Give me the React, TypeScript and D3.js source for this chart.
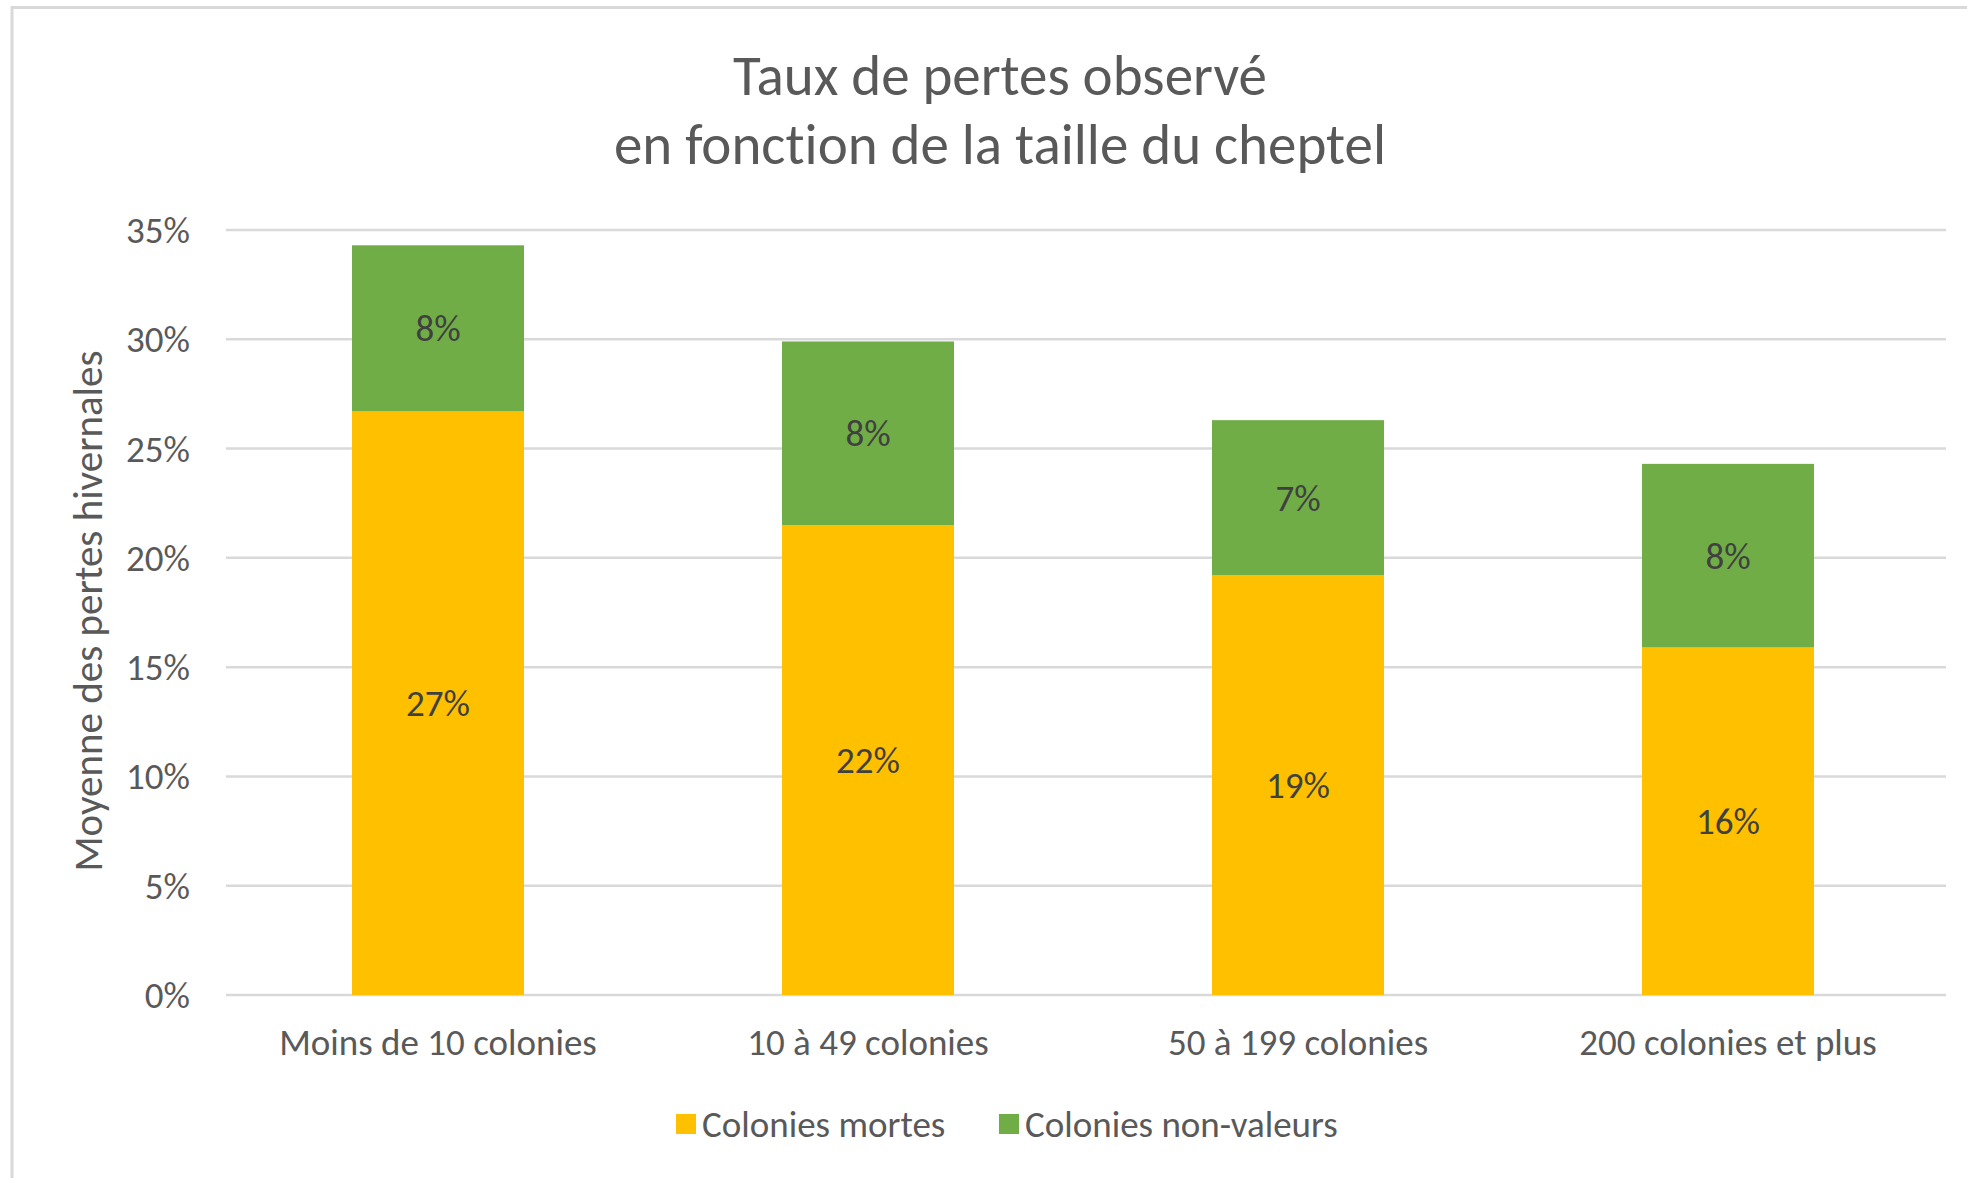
import React from "react";
import * as d3 from "d3";

// chart values (percent)
const categories = [
  "Moins de 10 colonies",
  "10 à 49 colonies",
  "50 à 199 colonies",
  "200 colonies et plus",
];
const coloniesMortes = [26.7, 21.5, 19.2, 15.9];
const coloniesNonValeurs = [7.6, 8.4, 7.1, 8.4];
const yTicks = [0, 5, 10, 15, 20, 25, 30, 35];
const seriesNames = ["Colonies mortes", "Colonies non-valeurs"];
const seriesColors = ["#FFC000", "#70AD47"];
const titleLines = ["Taux de pertes observé", "en fonction de la taille du cheptel"];
const yLabel = "Moyenne des pertes hivernales";

const W = 1967;
const H = 1178;
const FONT = "Carlito, Calibri, Lato, 'Open Sans', sans-serif";

export default function App() {
  const margin = { top: 230, right: 21, bottom: 183, left: 226 };

  // bands are shifted a touch left of the gridlines, as in the original
  const x = d3
    .scaleBand<string>()
    .domain(categories)
    .range([margin.left - 3, W - margin.right - 3])
    .paddingInner(0.6)
    .paddingOuter(0.3);

  const y = d3
    .scaleLinear()
    .domain([0, 35])
    .range([H - margin.bottom, margin.top]);

  const rows = categories.map((c, i) => ({
    cat: c,
    mortes: coloniesMortes[i],
    nonValeurs: coloniesNonValeurs[i],
  }));
  const stacked = d3.stack<any>().keys(["mortes", "nonValeurs"])(rows);

  const fmt = (v: number) => `${Math.round(v)}%`;

  return (
    <div style={{ position: "absolute", left: 0, top: 0 }}>
      <svg
        width={W}
        height={H}
        style={{ display: "block", fontFamily: FONT, fontVariantLigatures: "none" }}
      >
        <rect x={0} y={0} width={W} height={H} fill="#fff" />
        {/* chart area border */}
        <rect
          x={12}
          y={7.5}
          width={W + 20}
          height={H + 20}
          fill="#fff"
          stroke="#d9d9d9"
          strokeWidth={3}
        />

        {/* title */}
        {titleLines.map((t, i) => (
          <text
            key={t}
            x={1000}
            y={95 + i * 69}
            textAnchor="middle"
            fontSize={57}
            fill="#595959"
          >
            {t}
          </text>
        ))}

        {/* gridlines + tick labels */}
        {yTicks.map((t) => (
          <g key={t}>
            <line
              x1={margin.left}
              x2={W - margin.right}
              y1={y(t)}
              y2={y(t)}
              stroke="#d9d9d9"
              strokeWidth={2.5}
            />
            <text
              x={190}
              y={y(t)}
              dy="0.35em"
              textAnchor="end"
              fontSize={37}
              fill="#595959"
            >
              {t}%
            </text>
          </g>
        ))}

        {/* bars */}
        {stacked.map((s, si) => (
          <g key={s.key} fill={seriesColors[si]}>
            {s.map((d: any) => (
              <rect
                key={d.data.cat}
                x={x(d.data.cat)}
                y={y(d[1])}
                width={x.bandwidth()}
                height={y(d[0]) - y(d[1])}
              />
            ))}
          </g>
        ))}

        {/* data labels */}
        {stacked.map((s) =>
          s.map((d: any) => (
            <text
              key={s.key + d.data.cat}
              x={(x(d.data.cat) ?? 0) + x.bandwidth() / 2}
              y={(y(d[0]) + y(d[1])) / 2}
              dy="0.35em"
              textAnchor="middle"
              fontSize={37}
              fill="#404040"
            >
              {fmt(d[1] - d[0])}
            </text>
          ))
        )}

        {/* category labels */}
        {categories.map((c) => (
          <text
            key={c}
            x={(x(c) ?? 0) + x.bandwidth() / 2}
            y={1055}
            textAnchor="middle"
            fontSize={37}
            fill="#595959"
          >
            {c}
          </text>
        ))}

        {/* y axis title */}
        <text
          transform="translate(88,611) rotate(-90)"
          textAnchor="middle"
          dy="0.35em"
          fontSize={41}
          fill="#595959"
        >
          {yLabel}
        </text>

        {/* legend */}
        {seriesNames.map((n, i) => {
          const lx = [676, 999][i];
          return (
            <g key={n} transform={`translate(${lx},1124)`}>
              <rect x={0} y={-10} width={20} height={20} fill={seriesColors[i]} />
              <text x={26} y={0} dy="0.35em" fontSize={37} fill="#595959">
                {n}
              </text>
            </g>
          );
        })}
      </svg>
    </div>
  );
}
